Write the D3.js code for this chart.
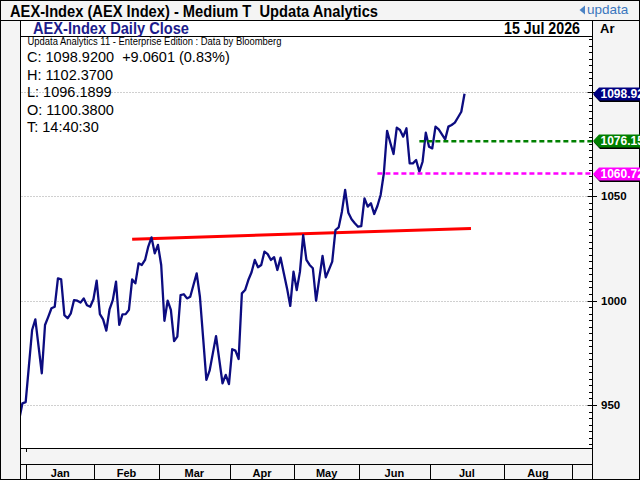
<!DOCTYPE html>
<html>
<head>
<meta charset="utf-8">
<script src="https://cdn.jsdelivr.net/npm/d3@7"></script>
<style>
html, body { margin: 0; padding: 0; background: #fff; }
svg { display: block; font-family: "Liberation Sans", Arial, sans-serif; }
</style>
</head>
<body>
<div class="canvas"></div>
<script>
// ---- data ----
const startDate = '2025-12-29';
const endDate = '2026-10-01';
const holidays = ['2026-01-01', '2026-04-03', '2026-04-06', '2026-05-01'];

// AEX daily closes, one per trading day from startDate
const closes = [
    943, 950.8, 951.4, 968.6, 985.9, 991, 978, 965.2, 988.3, 992.2,
    996.3, 997, 1010.6, 1010.1, 993, 991.5, 993.9, 1000.2, 999.9, 999,
    1001, 997.7, 997, 1000.6, 1009.5, 993.5, 991, 985.6, 995.8, 1000.2,
    1009, 988.3, 993.4, 993.5, 995.5, 1010.1, 1008.2, 1017.8, 1017, 1019.4,
    1025.8, 1030.2, 1022.6, 1026.6, 1017, 990.3, 999.9, 995.5, 980.6, 982.7,
    1002.6, 1003, 1001, 1001.8, 1007.4, 1013, 1001.8, 982, 962, 966.4,
    974.7, 983, 971.7, 960.4, 964.4, 960, 976.7, 976, 972, 1003.4,
    1005, 1009.8, 1013.5, 1019.4, 1015.9, 1017, 1023.4, 1022.2, 1019.4, 1020.7,
    1014.6, 1020.5, 1013, 1005.8, 997.4, 1013.8, 1005, 1013.8, 1031.3, 1019.4,
    1017, 1015.4, 999.9, 1010.6, 1021.3, 1011.1, 1014.8, 1018.6, 1033.7, 1035,
    1042.5, 1052.9, 1042, 1038.9, 1037, 1035.3, 1035.6, 1048.9, 1044.9, 1046.5,
    1041.4, 1045.2, 1050.5, 1060.9, 1081.2, 1075.5, 1070.1, 1082.7, 1081.6, 1078.4,
    1082.4, 1065.6, 1065.6, 1067.2, 1061.6, 1066.4, 1080.3, 1073.6, 1072.8, 1083.2,
    1081.9, 1079.5, 1077.1, 1083.2, 1084, 1085.1, 1087.7, 1090.3, 1098.92
];

const monthLabels = ['Jan', 'Feb', 'Mar', 'Apr', 'May', 'Jun', 'Jul', 'Aug'];
const yTicks = [950, 1000, 1050, 1100];
const yTickLabels = [950, 1000, 1050];   // 1100 sits under the last-price tag

const trendDates = ['2026-02-17', '2026-07-17'];
const trendValues = [1029.3, 1034.5];

const levelDates = ['2026-06-25', '2026-06-08'];
const levelValues = [1076.15, 1060.72];

const headerTitle = 'AEX-Index (AEX Index) - Medium T  Updata Analytics';
const chartTitle = 'AEX-Index Daily Close';
const chartDate = '15 Jul 2026';
const sourceNote = 'Updata Analytics 11 - Enterprise Edition : Data by Bloomberg';
const statLines = ['C: 1098.9200  +9.0601 (0.83%)', 'H: 1102.3700', 'L: 1096.1899', 'O: 1100.3800', 'T: 14:40:30'];

// ---- styles ----
const levelColours = ['#008000', '#ff00ff'];
const lineColour = '#0c0c80';
const panelGrey = '#f4f4f4';

// ---- layout ----
const W = 640, H = 480;
const plot = { left: 20.5, right: 592.5, top: 36.5, bottom: 448.5 };

// trading calendar
const fmtDay = d3.timeFormat('%Y-%m-%d');
const parseDay = d3.timeParse('%Y-%m-%d');
const calendar = d3.timeDay.range(parseDay(startDate), parseDay(endDate))
    .filter(d => d.getDay() !== 0 && d.getDay() !== 6 && !holidays.includes(fmtDay(d)));
const dayIndex = new Map(calendar.map((d, i) => [fmtDay(d), i]));

const monthStart = d3.range(monthLabels.length + 1)
    .map(m => calendar.findIndex(d => d.getFullYear() === 2026 && d.getMonth() === m));

const x = d3.scaleLinear().domain([0.4, 177.5]).range([20.5, 592]);
const y = d3.scaleLinear().domain([929.43, 1126.56]).range([448, 36]);

const svg = d3.select('.canvas')
    .append('svg')
    .attr('width', W)
    .attr('height', H);

// backgrounds
svg.append('rect').attr('width', W).attr('height', H).attr('fill', panelGrey);
svg.append('rect')
    .attr('x', 20.5).attr('y', 20.5).attr('width', 572).attr('height', 428)
    .attr('fill', '#fff');

svg.append('clipPath').attr('id', 'plotClip')
    .append('rect')
    .attr('x', plot.left).attr('y', plot.top)
    .attr('width', plot.right - plot.left).attr('height', plot.bottom - plot.top);

// dotted grid
svg.append('g')
    .selectAll('line')
    .data(yTicks)
    .enter().append('line')
    .attr('x1', plot.left + 1).attr('x2', plot.right - 1)
    .attr('y1', d => Math.round(y(d)) + 0.5).attr('y2', d => Math.round(y(d)) + 0.5)
    .attr('stroke', '#a0a0a0')
    .attr('stroke-dasharray', '1,2');

const graph = svg.append('g').attr('clip-path', 'url(#plotClip)');

// red trend line
graph.append('line')
    .attr('x1', x(dayIndex.get(trendDates[0]))).attr('y1', y(trendValues[0]))
    .attr('x2', x(dayIndex.get(trendDates[1]))).attr('y2', y(trendValues[1]))
    .attr('stroke', '#ff0000')
    .attr('stroke-width', 3);

// price line
const points = closes.map((v, i) => ({ i, v }));
const line = d3.line().x(d => x(d.i)).y(d => y(d.v));
graph.append('path')
    .datum(points)
    .attr('d', line)
    .attr('fill', 'none')
    .attr('stroke', lineColour)
    .attr('stroke-width', 2.3)
    .attr('stroke-linejoin', 'round');

// dashed levels
graph.selectAll('.level')
    .data(levelValues)
    .enter().append('line')
    .attr('class', 'level')
    .attr('x1', (d, i) => x(dayIndex.get(levelDates[i])))
    .attr('x2', plot.right)
    .attr('y1', d => y(d)).attr('y2', d => y(d))
    .attr('stroke', (d, i) => levelColours[i])
    .attr('stroke-width', 2.5)
    .attr('stroke-dasharray', '5,3');

// frame lines
const frame = [
    [0, 20.5, W, 20.5],
    [20.5, 20.5, 20.5, H],
    [592.5, 20.5, 592.5, H],
    [20.5, 36.5, 592.5, 36.5],
    [20.5, 448.5, 592.5, 448.5],
    [20.5, 464.5, 592.5, 464.5]
];
svg.append('g')
    .selectAll('line')
    .data(frame)
    .enter().append('line')
    .attr('x1', d => d[0]).attr('y1', d => d[1])
    .attr('x2', d => d[2]).attr('y2', d => d[3])
    .attr('stroke', '#000');
svg.append('rect')
    .attr('x', 0.5).attr('y', 0.5).attr('width', W - 1).attr('height', H - 1)
    .attr('fill', 'none').attr('stroke', '#000');

// right axis ticks
const minorStep = 50 / 16;
const minorTicks = d3.range(Math.ceil(y.domain()[0] / minorStep) * minorStep, y.domain()[1], minorStep);
svg.append('g')
    .selectAll('line')
    .data(minorTicks)
    .enter().append('line')
    .attr('x1', 589).attr('x2', 592.5)
    .attr('y1', d => Math.round(y(d)) + 0.5).attr('y2', d => Math.round(y(d)) + 0.5)
    .attr('stroke', '#000');

svg.append('g')
    .selectAll('line')
    .data(yTicks)
    .enter().append('line')
    .attr('x1', 587.5).attr('x2', 597)
    .attr('y1', d => Math.round(y(d)) + 0.5).attr('y2', d => Math.round(y(d)) + 0.5)
    .attr('stroke', '#000');

svg.append('g')
    .selectAll('text')
    .data(yTickLabels)
    .enter().append('text')
    .attr('x', 601)
    .attr('y', d => y(d))
    .attr('dy', '0.36em')
    .attr('font-size', 11.5)
    .attr('font-weight', 'bold')
    .text(d => d);

// price tags
const tagValues = [closes[closes.length - 1]].concat(levelValues);
const tagColours = ['#000080'].concat(levelColours);
const tags = svg.append('g')
    .selectAll('g')
    .data(tagValues)
    .enter().append('g')
    .attr('transform', d => `translate(0, ${Math.round(y(d))})`);

const tagShape = '593,0 599,-6.5 641,-6.5 641,6.5 599,6.5';
tags.append('polygon')
    .attr('points', tagShape)
    .attr('transform', 'translate(1,1.5)')
    .attr('fill', '#000');
tags.append('polygon')
    .attr('points', tagShape)
    .attr('fill', (d, i) => tagColours[i]);
tags.append('text')
    .attr('x', 600.5)
    .attr('dy', '0.37em')
    .attr('font-size', 12)
    .attr('font-weight', 'bold')
    .attr('fill', '#fff')
    .text(d => d.toFixed(2));

// month row
svg.append('g')
    .selectAll('line')
    .data(monthStart)
    .enter().append('line')
    .attr('x1', d => Math.round(x(d - 0.75)) + 0.5)
    .attr('x2', d => Math.round(x(d - 0.75)) + 0.5)
    .attr('y1', 464.5).attr('y2', H)
    .attr('stroke', '#000');

svg.append('g')
    .selectAll('text')
    .data(monthLabels)
    .enter().append('text')
    .attr('x', (d, i) => (x(monthStart[i] - 0.75) + x(monthStart[i + 1] - 0.75)) / 2)
    .attr('y', 476.5)
    .attr('text-anchor', 'middle')
    .attr('font-size', 11)
    .attr('font-weight', 'bold')
    .text(d => d);

svg.append('line')
    .attr('x1', Math.round(x(monthStart[0] - 0.75)) + 0.5)
    .attr('x2', Math.round(x(monthStart[0] - 0.75)) + 0.5)
    .attr('y1', 449).attr('y2', 452)
    .attr('stroke', '#000');

// header texts
svg.append('text')
    .attr('x', 10).attr('y', 17)
    .attr('font-size', 16.5)
    .attr('font-weight', 'bold')
    .attr('textLength', 368)
    .attr('lengthAdjust', 'spacingAndGlyphs')
    .style('white-space', 'pre')
    .text(headerTitle);

svg.append('polygon')
    .attr('points', '579.5,10 585,5.5 585,14.5')
    .attr('fill', '#4a82c4');
svg.append('text')
    .attr('x', 587).attr('y', 14)
    .attr('font-size', 13.5)
    .attr('fill', '#3a76bd')
    .text('updata');

svg.append('text')
    .attr('x', 33).attr('y', 34)
    .attr('font-size', 16)
    .attr('font-weight', 'bold')
    .attr('fill', '#1c1c8c')
    .attr('textLength', 156)
    .attr('lengthAdjust', 'spacingAndGlyphs')
    .text(chartTitle);

svg.append('text')
    .attr('x', 504).attr('y', 34)
    .attr('font-size', 16)
    .attr('font-weight', 'bold')
    .attr('textLength', 76)
    .attr('lengthAdjust', 'spacingAndGlyphs')
    .text(chartDate);

svg.append('text')
    .attr('x', 600).attr('y', 33)
    .attr('font-size', 13)
    .attr('font-weight', 'bold')
    .text('Ar');

svg.append('text')
    .attr('x', 27.5).attr('y', 44.5)
    .attr('font-size', 10)
    .attr('textLength', 254)
    .attr('lengthAdjust', 'spacingAndGlyphs')
    .text(sourceNote);

svg.append('g')
    .selectAll('text')
    .data(statLines)
    .enter().append('text')
    .attr('x', 27)
    .attr('y', (d, i) => 62 + i * 17.6)
    .attr('font-size', 14.5)
    .style('white-space', 'pre')
    .text(d => d);
</script>
</body>
</html>
